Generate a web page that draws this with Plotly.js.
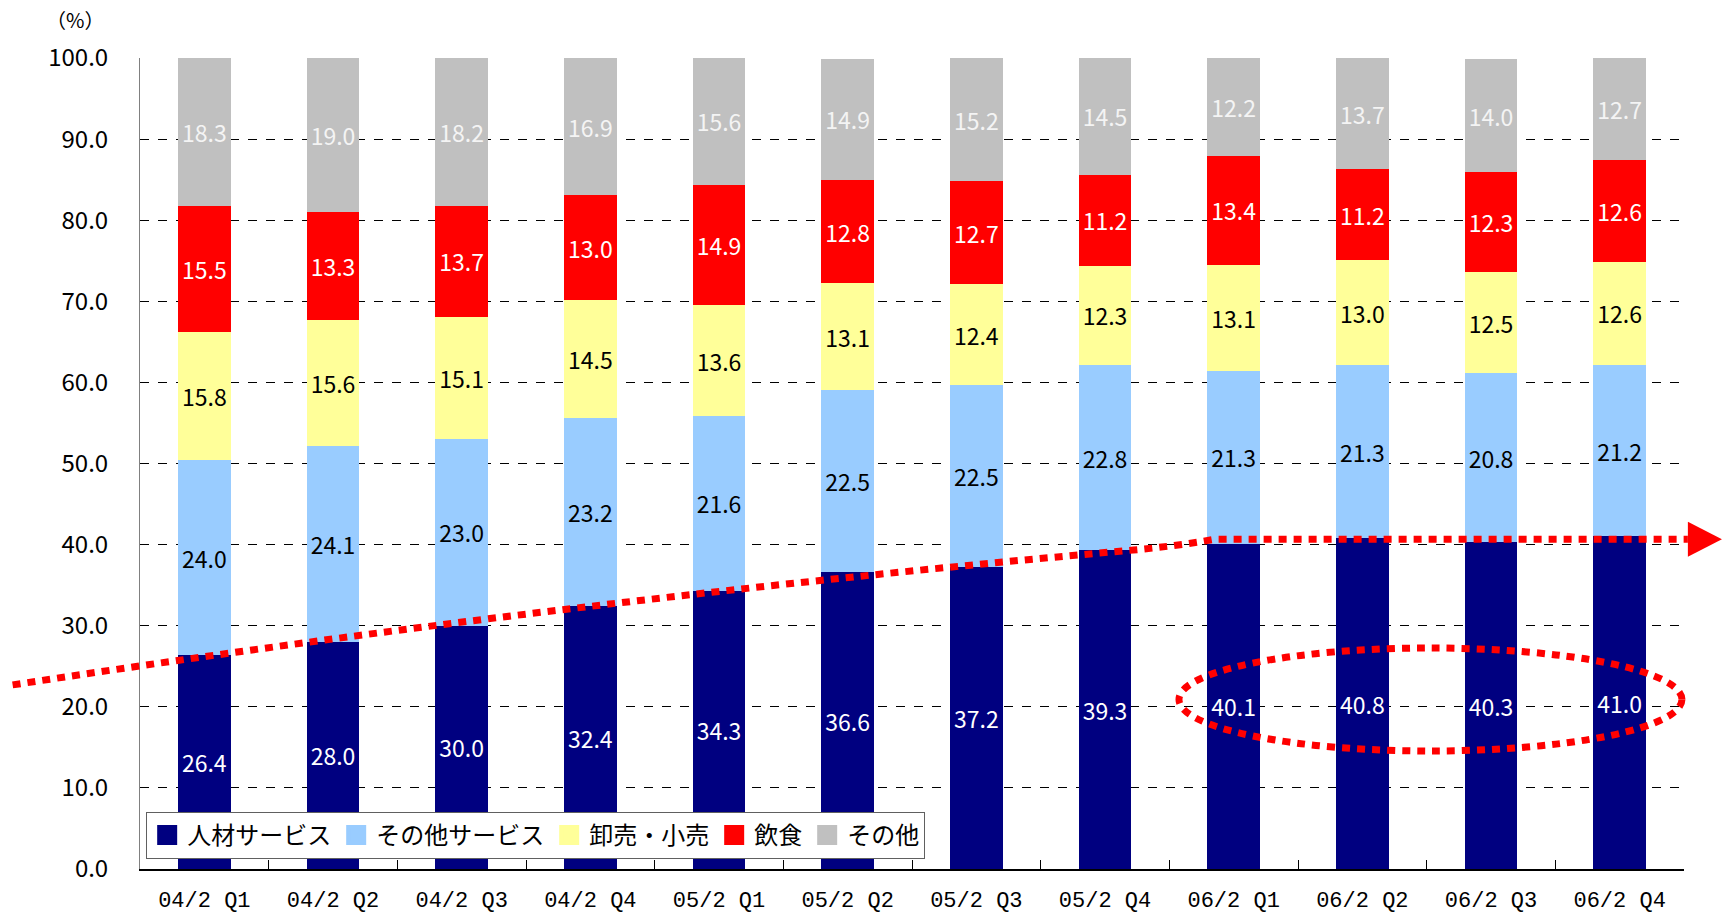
<!DOCTYPE html>
<html>
<head>
<meta charset="utf-8">
<script src="https://cdn.plot.ly/plotly-3.0.1.min.js"></script>
<style>html,body{margin:0;padding:0;background:#fff;}#chart{width:1722px;height:919px;}</style>
</head>
<body>
<div id="chart"></div>
<script>
const categories = ['04/2 Q1','04/2 Q2','04/2 Q3','04/2 Q4','05/2 Q1','05/2 Q2','05/2 Q3','05/2 Q4','06/2 Q1','06/2 Q2','06/2 Q3','06/2 Q4'];
const jinzaiService = [26.4, 28.0, 30.0, 32.4, 34.3, 36.6, 37.2, 39.3, 40.1, 40.8, 40.3, 41.0];
const otherService  = [24.0, 24.1, 23.0, 23.2, 21.6, 22.5, 22.5, 22.8, 21.3, 21.3, 20.8, 21.2];
const wholesaleRetail = [15.8, 15.6, 15.1, 14.5, 13.6, 13.1, 12.4, 12.3, 13.1, 13.0, 12.5, 12.6];
const foodService   = [15.5, 13.3, 13.7, 13.0, 14.9, 12.8, 12.7, 11.2, 13.4, 11.2, 12.3, 12.6];
const others        = [18.3, 19.0, 18.2, 16.9, 15.6, 14.9, 15.2, 14.5, 12.2, 13.7, 14.0, 12.7];
const seriesNames = ['人材サービス','その他サービス','卸売・小売','飲食','その他'];
const yTickValues = [0,10,20,30,40,50,60,70,80,90,100];

const series = [jinzaiService, otherService, wholesaleRetail, foodService, others];
const colors = ['#000080','#99CCFF','#FFFF99','#FF0000','#C0C0C0'];
const textColors = ['#FFFFFF','#000000','#000000','#FFFFFF','#F4F4F4'];
const FONT = '"Noto Sans CJK JP", "Noto Sans", sans-serif';
const MONO = '"Liberation Mono", "DejaVu Sans Mono", monospace';

const traces = [];
series.forEach((vals, k) => {
  traces.push({
    type: 'bar', x: categories, y: vals, name: seriesNames[k],
    marker: {color: colors[k], line: {width: 0}},
    text: vals.map(v => v.toFixed(1)),
    textposition: 'inside', insidetextanchor: 'middle', textangle: 0,
    constraintext: 'none',
    insidetextfont: {family: FONT, size: 23, color: textColors[k]},
    showlegend: false, hoverinfo: 'skip'
  });
});
// legend entries (larger square symbols)
series.forEach((vals, k) => {
  traces.push({
    type: 'scatter', mode: 'markers', x: [categories[0]], y: [null], name: seriesNames[k],
    marker: {symbol: 'square', size: 16, color: colors[k], line: {color: colors[k], width: 4}},
    showlegend: true, hoverinfo: 'skip'
  });
});

// helpers: convert category-index / value units into paper units (for annotation shapes outside axes)
const nCat = categories.length;
const px = i => (i + 0.5) / nCat;
const py = v => v / 100;

// trend arrow (in category-index, value units)
const arrowStart = [-1.49, 22.7], arrowC1 = [2.84, 33.2], arrowP1 = [7.22, 39.33],
      arrowC2 = [7.54, 39.79], arrowP2 = [7.85, 40.65], arrowEnd = [11.53, 40.65];
const arrowTip = [11.795, 40.65], arrowHalf = 2.16;
const P = p => px(p[0]).toFixed(5) + ',' + py(p[1]).toFixed(5);
const arrowPath = 'M' + P(arrowStart) + ' Q' + P(arrowC1) + ' ' + P(arrowP1) +
                  ' Q' + P(arrowC2) + ' ' + P(arrowP2) + ' L' + P(arrowEnd);
const triPath = 'M' + P([arrowEnd[0], arrowEnd[1] + arrowHalf]) + ' L' + P(arrowTip) +
                ' L' + P([arrowEnd[0], arrowEnd[1] - arrowHalf]) + ' Z';
const ellipseX = [7.575, 11.484], ellipseY = [14.55, 27.25];

const layout = {
  width: 1722, height: 919,
  margin: {l: 140, r: 38, t: 58, b: 50},
  paper_bgcolor: '#fff', plot_bgcolor: '#fff',
  font: {family: FONT, color: '#000'},
  barmode: 'stack', bargap: 0.59,
  showlegend: true,
  legend: {
    orientation: 'h', x: 0.004, y: 0.0705, xanchor: 'left', yanchor: 'top',
    bgcolor: '#fff', bordercolor: '#606060', borderwidth: 1,
    font: {family: FONT, size: 24, color: '#000'},
    itemwidth: 30, traceorder: 'normal'
  },
  xaxis: {
    type: 'category', range: [-0.5, 11.5], autorange: false,
    showgrid: false, zeroline: false,
    showline: true, linecolor: '#000', linewidth: 2,
    ticks: 'inside', ticklen: 9, tickcolor: '#000', tickson: 'boundaries',
    tickfont: {family: MONO, size: 22, color: '#000'},
    ticklabelstandoff: 10
  },
  yaxis: {
    range: [0, 100], autorange: false, tickvals: yTickValues, tickformat: '.1f',
    showgrid: true, gridcolor: '#000', gridwidth: 1, griddash: '9px,9px',
    zeroline: false, showline: true, linecolor: '#808080', linewidth: 1,
    ticks: 'inside', ticklen: 5, tickcolor: '#000',
    tickfont: {family: FONT, size: 24, color: '#000'},
    ticklabelstandoff: 26
  },
  annotations: [{
    text: '（%）', xref: 'paper', yref: 'paper', x: -0.042, y: 1.047,
    xanchor: 'center', yanchor: 'middle',
    showarrow: false, font: {family: FONT, size: 20, color: '#000'}
  }],
  shapes: [
    {type: 'path', xref: 'paper', yref: 'paper', path: arrowPath,
     line: {color: '#FF0000', width: 7, dash: '8px,7px'}},
    {type: 'path', xref: 'paper', yref: 'paper', path: triPath,
     fillcolor: '#FF0000', line: {color: '#FF0000', width: 0}},
    {type: 'circle', xref: 'paper', yref: 'paper',
     x0: px(ellipseX[0]), x1: px(ellipseX[1]), y0: py(ellipseY[0]), y1: py(ellipseY[1]),
     line: {color: '#FF0000', width: 7, dash: '8px,7px'}}
  ]
};

Plotly.newPlot('chart', traces, layout, {staticPlot: true, displayModeBar: false});
</script>
</body>
</html>
